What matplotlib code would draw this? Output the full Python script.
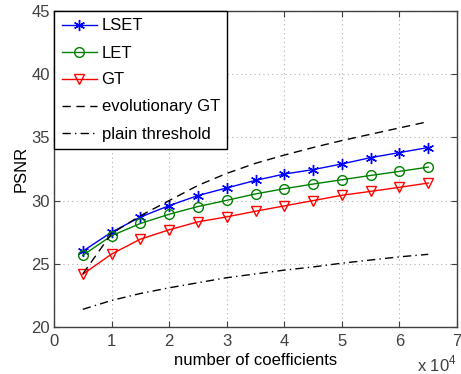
import numpy as np
import matplotlib
matplotlib.use("Agg")
import matplotlib.pyplot as plt

plt.rcParams['font.family'] = ['Liberation Sans', 'DejaVu Sans']
plt.rcParams['mathtext.fontset'] = 'custom'
plt.rcParams['mathtext.rm'] = 'Liberation Sans'

coefficients = [5000, 10000, 15000, 20000, 25000, 30000, 35000, 40000, 45000, 50000, 55000, 60000, 65000]
lset = [26.0, 27.5, 28.7, 29.6, 30.4, 31.0, 31.6, 32.1, 32.45, 32.9, 33.4, 33.8, 34.2]
let = [25.67, 27.22, 28.19, 28.92, 29.53, 30.02, 30.53, 30.94, 31.31, 31.65, 31.99, 32.31, 32.65]
gt = [24.17, 25.77, 26.95, 27.69, 28.32, 28.71, 29.16, 29.58, 30.0, 30.42, 30.73, 31.05, 31.39]
evo_gt = [24.2, 27.4, 28.8, 30.0, 31.2, 32.15, 32.95, 33.6, 34.2, 34.75, 35.25, 35.75, 36.25]
plain = [21.4, 22.1, 22.65, 23.1, 23.5, 23.9, 24.2, 24.5, 24.75, 25.05, 25.3, 25.55, 25.75]

xticks = [0, 1, 2, 3, 4, 5, 6, 7]
yticks = [20, 25, 30, 35, 40, 45]

x = np.array(coefficients) / 1e4
gray = '#404040'

fig = plt.figure(figsize=(4.61, 3.74), dpi=100)
ax = fig.add_axes([54/461, 1 - 327/374, (457-54)/461, (327-11)/374])

ax.plot(x, lset, color='blue', marker=(6, 2, 0), markersize=8, mew=1, lw=1, label='LSET')
ax.plot(x, let, color='green', marker='o', markersize=7, mfc='none', lw=1, label='LET')
ax.plot(x, gt, color='red', marker='v', markersize=7.5, mfc='none', lw=1, label='GT')
ax.plot(x, evo_gt, color='black', ls=(0, (6, 4)), lw=1, label='evolutionary GT')
ax.plot(x, plain, color='black', ls=(0, (6, 3, 1, 3)), lw=1, label='plain threshold')

ax.set_xlim(0, 7)
ax.set_ylim(20, 45)
ax.set_xticks(xticks)
ax.set_yticks(yticks)
ax.set_xticklabels([str(t) for t in xticks])
ax.set_yticklabels([str(t) for t in yticks])
ax.grid(True, color='#b0b0b0', ls=(0, (1, 3)), lw=0.8)
ax.tick_params(direction='in', length=4, top=True, right=True, labelsize=12,
               colors=gray, labelcolor=gray)
ax.tick_params(axis='x', pad=5)
ax.tick_params(axis='y', pad=3)
for s in ax.spines.values():
    s.set_color(gray)
    s.set_linewidth(1)

ax.set_xlabel('number of coefficients', fontsize=12, labelpad=3)
ax.set_ylabel('PSNR', fontsize=12, labelpad=2)
fig.text(457/461, 2.5/374, r'x 10$^4$', ha='right', va='baseline',
         fontsize=12, color=gray)

leg = ax.legend(loc='upper left', borderaxespad=0, fontsize=12, frameon=True,
                fancybox=False, edgecolor='black', handlelength=2.1,
                handletextpad=0.3, labelspacing=0.72, borderpad=0.45)
leg.get_frame().set_linewidth(1)
leg.get_frame().set_alpha(1)

fig.savefig('out.png', dpi=100)
